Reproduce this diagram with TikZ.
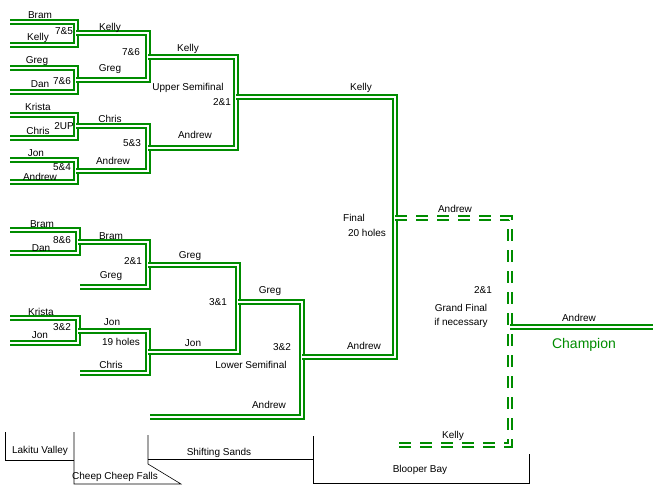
\documentclass[tikz,border=0pt]{standalone}
\usepackage{fontspec}
\setmainfont{Liberation Sans}
\usetikzlibrary{positioning}
\definecolor{brgreen}{rgb}{0.0,0.55,0.0}
\tikzset{
    bar/.style={draw=brgreen, double=white, line width=2.3pt, double distance=1.1pt, line join=miter},
    lbl/.style={font=\fontsize{10}{11}\selectfont, inner sep=0pt},
    venue/.style={draw=black, line width=0.6pt}
}
\begin{document}
\begin{tikzpicture}[x=1pt, y=-1pt]
    \useasboundingbox (0,0) rectangle (653,488);

    % bracket lines: top start/top y/bottom start/bottom y/vertical x
    \foreach \xa/\ya/\xb/\yb/\xv in {
        10/22/10/45/76, 10/68/10/92/76, 10/115/10/138/76, 10/160/10/182/76,
        10/230/10/253/78, 10/318/10/343/78,
        76/33/76/80/148, 76/126/76/171/148,
        78/242/80/287/148, 78/331/80/373/148,
        148/57/148/148/236, 148/265/148/352/238,
        238/302/150/417/302,
        236/97/302/357/395}
        \draw[bar] (\xa,\ya) -| (\xv,\yb) -- (\xb,\yb);

    % grand final
    \draw[bar, dash pattern=on 12pt off 9pt] (395,218) -| (510,445) -- (398,445);
    \draw[bar] (510,327) -- (653,327);

    % names and scores
    \foreach \x/\y/\m in {
        40/15/Bram, 38/38/Kelly, 64/31/{7\&5},
        37/61/Greg, 40/84/Dan, 62/81/{7\&6},
        38/107/Krista, 38/131/Chris, 64/126/2UP,
        36/153/Jon, 40/177/Andrew, 62/167/{5\&4},
        110/28/Kelly, 131/52/{7\&6}, 110/69/Greg,
        110/119/Chris, 132/143/{5\&3}, 113/161/Andrew,
        188/49/Kelly, 188/88/{Upper Semifinal}, 222/102/{2\&1}, 195/135/Andrew,
        361/88/Kelly,
        42/224/Bram, 41/248/Dan, 62/240/{8\&6},
        111/236/Bram, 133/261/{2\&1}, 111/276/Greg,
        41/312/Krista, 40/335/Jon, 62/327/{3\&2},
        112/322/Jon, 121/342/{19 holes}, 111/365/Chris,
        190/256/Greg, 218/302/{3\&1}, 193/343/Jon,
        270/291/Greg, 282/347/{3\&2}, 251/365/{Lower Semifinal}, 269/405/Andrew,
        354/218/Final, 367/233/{20 holes}, 364/346/Andrew,
        455/209/Andrew, 483/290/{2\&1}, 461/308/{Grand Final}, 461/323/{if necessary},
        453/436/Kelly, 579/318/Andrew}
        \node[lbl] at (\x,\y) {\m};
    \node[lbl, font=\fontsize{14}{16}\selectfont, text=brgreen] (champ) at (584,345) {Champion};

    % venues
    \draw[venue] (5,432) -- (5,460) -- (74,460);
    \draw[venue] (74,432) -- (74,484) -- (181,484) -- (148,464) -- (148,435);
    \draw[venue] (148,459) -- (313,459);
    \draw[venue] (313,436) -- (313,483) -- (529,483) -- (529,454);
    \foreach \x/\y/\m in {
        40/451/{Lakitu Valley}, 115/477/{Cheep Cheep Falls},
        219/453/{Shifting Sands}, 420/470/{Blooper Bay}}
        \node[lbl] at (\x,\y) {\m};
\end{tikzpicture}
\end{document}
